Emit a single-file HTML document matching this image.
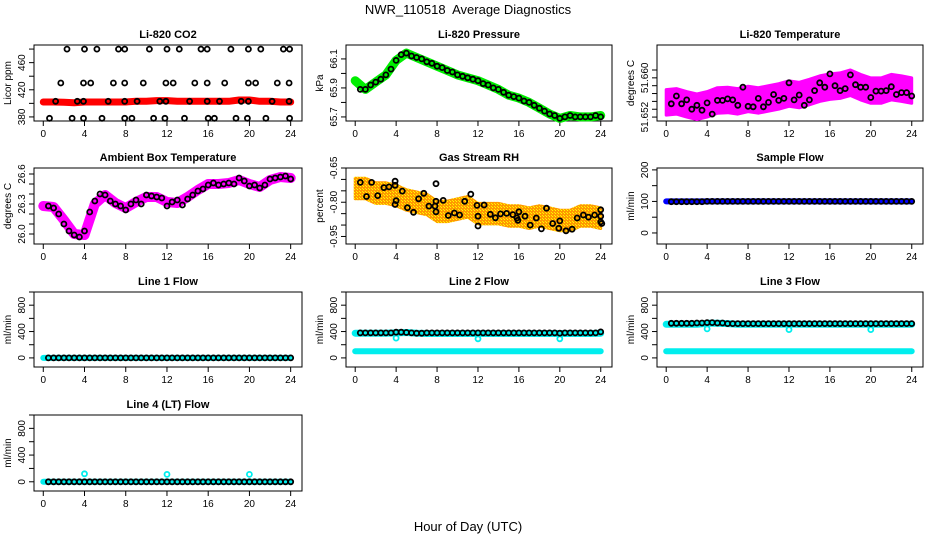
<!DOCTYPE html>
<html><head><meta charset="utf-8">
<style>
html,body{margin:0;padding:0;background:#fff;}
svg{display:block;font-family:"Liberation Sans",Arial,sans-serif;}
</style></head>
<body>
<svg id="chart" width="936" height="540" viewBox="0 0 936 540" xmlns="http://www.w3.org/2000/svg">
<defs>
<pattern id="rhpat" width="3" height="3" patternUnits="userSpaceOnUse">
<rect width="3" height="3" fill="#ff9900"/><rect width="1" height="1" fill="#ffff00"/><rect x="2" y="2" width="1" height="1" fill="#ffee00"/>
</pattern>
</defs>
<text x="468" y="14" text-anchor="middle" font-size="13">NWR_110518&#160; Average Diagnostics</text>
<text x="468" y="531" text-anchor="middle" font-size="13">Hour of Day (UTC)</text>
</svg>
<script>
// ---------- data ----------
const hourTicks=[0,4,8,12,16,20,24];
const halfHours=[0.5,1,1.5,2,2.5,3,3.5,4,4.5,5,5.5,6,6.5,7,7.5,8,8.5,9,9.5,10,10.5,11,11.5,12,12.5,13,13.5,14,14.5,15,15.5,16,16.5,17,17.5,18,18.5,19,19.5,20,20.5,21,21.5,22,22.5,23,23.5,24];
const bandHours=[0,1,2,3,4,5,6,7,8,9,10,11,12,13,14,15,16,17,18,19,20,21,22,23,24];

const co2X=[2.3,4.0,5.2,7.3,7.9,10.3,12.0,13.2,15.3,15.9,18.2,19.9,21.1,23.3,23.9,
1.7,3.9,4.6,6.8,7.9,9.7,11.9,12.6,14.7,15.9,17.6,19.9,20.6,22.7,23.85,
1.2,3.3,3.9,6.3,7.9,9.1,11.3,11.9,14.2,15.9,17.1,19.2,19.9,22.2,23.85,
0.6,2.8,3.9,5.7,7.9,8.6,10.7,11.8,13.7,16.0,16.6,18.7,19.8,21.6,23.9];
const co2Y=[480,480,480,480,480,480,480,480,480,480,480,480,480,480,480,
430,430,430,430,430,430,430,430,430,430,430,430,430,430,430,
403,403,403,403,403,403,403,403,403,403,403,403,403,403,403,
378,378,378,378,378,378,378,378,378,378,378,378,378,378,378];
const co2Band=[402,402,401.5,401,402,402,402,402,402,403,403,404,404,403,403,403,403,403,403,405,405,403,403,402,402];

const pressBand=[65.95,65.89,65.94,65.99,66.09,66.14,66.11,66.08,66.05,66.02,65.99,65.97,65.95,65.92,65.89,65.85,65.83,65.80,65.76,65.72,65.69,65.71,65.70,65.70,65.71];
const pressBlack=[65.89,65.89,65.92,65.94,65.96,65.99,66.03,66.09,66.13,66.14,66.12,66.11,66.10,66.08,66.07,66.05,66.04,66.02,66.01,65.99,65.98,65.97,65.96,65.95,65.93,65.92,65.90,65.89,65.87,65.85,65.84,65.83,65.81,65.80,65.78,65.76,65.74,65.72,65.71,65.69,65.70,65.71,65.70,65.70,65.70,65.70,65.71,65.70];

const tempBand=[51.6550,51.6552,51.6546,51.6541,51.6546,51.6554,51.6555,51.6552,51.6557,51.6554,51.6558,51.6562,51.6568,51.6565,51.6571,51.6578,51.6582,51.6584,51.6590,51.6581,51.6574,51.6574,51.6581,51.6578,51.6574];
const tempBlack=[51.6547,51.6563,51.6547,51.6555,51.6536,51.6544,51.6534,51.6549,51.6526,51.6554,51.6554,51.6557,51.6555,51.6544,51.6581,51.6542,51.6541,51.6558,51.6541,51.6550,51.6566,51.6554,51.6558,51.6590,51.6555,51.6565,51.6544,51.6555,51.6574,51.6590,51.6581,51.6608,51.6584,51.6574,51.6578,51.6606,51.6586,51.6581,51.6581,51.6560,51.6573,51.6573,51.6574,51.6582,51.6566,51.6570,51.6570,51.6563];

const ambBand=[26.28,26.27,26.14,26.00,25.99,26.30,26.39,26.31,26.26,26.32,26.37,26.37,26.32,26.31,26.37,26.44,26.50,26.50,26.51,26.54,26.50,26.47,26.54,26.57,26.56];
const ambBlack=[26.28,26.26,26.20,26.10,26.03,25.99,25.97,26.03,26.22,26.33,26.40,26.39,26.33,26.30,26.28,26.24,26.30,26.34,26.30,26.39,26.38,26.37,26.36,26.28,26.32,26.34,26.29,26.35,26.39,26.43,26.45,26.49,26.51,26.49,26.50,26.51,26.50,26.56,26.53,26.48,26.49,26.46,26.49,26.55,26.56,26.57,26.58,26.55];

const rhBand=[-0.74,-0.74,-0.76,-0.76,-0.77,-0.79,-0.80,-0.81,-0.84,-0.84,-0.83,-0.82,-0.85,-0.85,-0.85,-0.86,-0.86,-0.87,-0.86,-0.87,-0.88,-0.88,-0.86,-0.86,-0.87];
const rhX=[0.5,1.1,1.6,2.2,2.8,3.3,3.9,3.9,3.9,4.0,4.6,5.1,5.7,6.2,6.7,7.2,7.8,7.9,7.9,7.9,8.6,9.1,9.7,10.2,10.7,11.3,11.9,12.0,12.0,12.6,13.2,13.7,14.2,14.8,15.4,15.8,15.9,16.0,16.6,17.1,17.7,18.2,18.7,19.3,19.9,20.0,20.6,21.2,21.7,22.3,22.8,23.4,24.0,24.0,24.0,24.1];
const rhY=[-0.713,-0.775,-0.713,-0.771,-0.736,-0.733,-0.726,-0.708,-0.810,-0.793,-0.751,-0.824,-0.844,-0.785,-0.761,-0.817,-0.817,-0.796,-0.842,-0.719,-0.792,-0.858,-0.847,-0.856,-0.796,-0.765,-0.814,-0.904,-0.861,-0.812,-0.853,-0.868,-0.851,-0.849,-0.854,-0.869,-0.879,-0.842,-0.861,-0.900,-0.869,-0.917,-0.826,-0.893,-0.914,-0.882,-0.925,-0.918,-0.869,-0.856,-0.865,-0.856,-0.833,-0.861,-0.886,-0.893];

const sampleBand=[100,100,100,100,100,100,100,100,100,100,100,100,100,100,100,100,100,100,100,100,100,100,100,100,100];
const sampleBlack=[99,99,99,99,99,99,99,100,100,100,100,100,100,100,100,100,100,100,100,100,100,100,100,100,100,100,100,100,100,100,100,100,100,100,100,100,100,100,100,100,100,100,100,100,100,100,100,100];

const line1Cyan=[0,0,0,0,0,0,0,0,0,0,0,0,0,0,0,0,0,0,0,0,0,0,0,0,0];
const line1Black=[0,0,0,0,0,0,0,0,0,0,0,0,0,0,0,0,0,0,0,0,0,0,0,0,0,0,0,0,0,0,0,0,0,0,0,0,0,0,0,0,0,0,0,0,0,0,0,0];
const line2Cyan=[375,375,375,375,380,385,375,370,370,370,370,370,370,370,370,370,370,370,370,370,370,370,370,370,375];
const line2Low=[100,100,100,100,100,100,100,100,100,100,100,100,100,100,100,100,100,100,100,100,100,100,100,100,100];
const line2Black=[380,380,380,380,380,380,380,390,390,385,380,375,375,380,380,380,380,380,380,380,380,380,380,380,380,380,380,380,380,380,380,380,380,380,380,380,380,380,380,375,380,380,380,380,380,380,380,395];
const line3Cyan=[510,510,510,510,525,525,520,510,510,510,510,510,510,510,510,510,510,510,510,510,510,510,510,510,510];
const line3Low=[100,100,100,100,100,100,100,100,100,100,100,100,100,100,100,100,100,100,100,100,100,100,100,100,100];
const line3Black=[525,525,525,525,525,530,530,535,535,530,530,520,520,520,520,520,520,520,520,520,520,520,520,520,520,520,520,520,520,520,520,520,520,520,520,520,520,520,520,520,520,520,520,520,520,520,520,520];
const line4Cyan=[0,0,0,0,0,0,0,0,0,0,0,0,0,0,0,0,0,0,0,0,0,0,0,0,0];
const line4Black=[0,0,0,0,0,0,0,0,0,0,0,0,0,0,0,0,0,0,0,0,0,0,0,0,0,0,0,0,0,0,0,0,0,0,0,0,0,0,0,0,0,0,0,0,0,0,0,0];
const dipHours=[4,12,20];
const line2Dips=[300,290,290];
const line3Dips=[440,430,430];
const line4Spikes=[120,110,110];

// ---------- drawing ----------
const svg=document.getElementById('chart');
const NS='http://www.w3.org/2000/svg';
function mk(tag,attrs,parent){const e=document.createElementNS(NS,tag);for(const k in attrs)e.setAttribute(k,attrs[k]);(parent||svg).appendChild(e);return e;}
const colX=[[34,302],[346,612],[657,923]];
const rowY=[[45,121],[168,244],[292,367],[415,491]];
const X0=-0.9,X1=25.1;

function panel(c,r,yMin,yMax,yTicks,yLabels,title,ylab,name){
  const [L,R]=colX[c],[T,B]=rowY[r];
  const g=mk('g',{});
  
  
  const sx=v=>L+(v-X0)/(X1-X0)*(R-L);
  const sy=v=>B-(v-yMin)/(yMax-yMin)*(B-T);
  const box=mk('rect',{x:L,y:T,width:R-L,height:B-T,fill:'none',stroke:'#000','stroke-width':1},g);
  
  
  const t=mk('text',{x:(L+R)/2,y:T-7,'text-anchor':'middle','font-size':11,'font-weight':'bold'},g);
  t.textContent=title;
  
  
  const ax=mk('g',{stroke:'#000','stroke-width':1},g);
  
  
  mk('line',{x1:sx(0),x2:sx(24),y1:B,y2:B},ax);
  hourTicks.forEach(h=>{
    mk('line',{x1:sx(h),x2:sx(h),y1:B,y2:B+5},ax);
    const tl=mk('text',{x:sx(h),y:B+16,'text-anchor':'middle','font-size':10,stroke:'none'},g);
    tl.textContent=h;
    
    
  });
  const ay=mk('g',{stroke:'#000','stroke-width':1},g);
  
  
  mk('line',{x1:L,x2:L,y1:sy(yTicks[0]),y2:sy(yTicks[yTicks.length-1])},ay);
  yTicks.forEach(v=>mk('line',{x1:L-5,x2:L,y1:sy(v),y2:sy(v)},ay));
  yLabels.forEach(v=>{
    const y=sy(v);
    const tl=mk('text',{x:L-9,y:y,'text-anchor':'middle','font-size':10,transform:`rotate(-90 ${L-9} ${y})`},g);
    tl.textContent=(typeof v==='number'?v.toString():v);
    
    
  });
  const yl=mk('text',{x:L-23,y:(T+B)/2,'text-anchor':'middle','font-size':10,transform:`rotate(-90 ${L-23} ${(T+B)/2})`},g);
  yl.textContent=ylab;
  
  
  return {g,sx,sy};
}
function band(p,xs,ys,color,w,name){
  const pts=xs.map((x,i)=>p.sx(x).toFixed(1)+','+p.sy(ys[i]).toFixed(1)).join(' ');
  const e=mk('polyline',{points:pts,fill:'none',stroke:color,'stroke-width':w,'stroke-linejoin':'round','stroke-linecap':'round'},p.g);
  
  
}
function area(p,xs,ys,half,fill,name){
  const up=xs.map((x,i)=>p.sx(x).toFixed(1)+','+p.sy(ys[i]+half).toFixed(1));
  const dn=xs.map((x,i)=>p.sx(x).toFixed(1)+','+p.sy(ys[i]-half).toFixed(1)).reverse();
  const e=mk('polygon',{points:up.concat(dn).join(' '),fill:fill,stroke:fill,'stroke-width':3,'stroke-linejoin':'round'},p.g);
  
  
}
function pts(p,xs,ys,color,name,r){
  const g=mk('g',{fill:'none',stroke:color,'stroke-width':1.8},p.g);
  
  
  xs.forEach((x,i)=>{
    const c=mk('circle',{cx:p.sx(x).toFixed(1),cy:p.sy(ys[i]).toFixed(1),r:r||2.5},g);
    
    
  });
}

// Li-820 CO2
let p=panel(0,0,374,486,[380,400,420,440,460,480],[380,420,460],'Li-820 CO2','Licor ppm','co2');
band(p,bandHours,co2Band,'#ff0000',7,'co2-band');
pts(p,co2X,co2Y,'#000','co2-points');
// Pressure
p=panel(1,0,65.672,66.196,[65.7,65.8,65.9,66.0,66.1],['65.7','65.9','66.1'],'Li-820 Pressure','kPa','pressure');
band(p,bandHours,pressBand,'#00ee00',9,'pressure-band');
pts(p,halfHours,pressBlack,'#000','pressure-points');
// Temperature
p=panel(2,0,51.6512,51.6667,[51.652,51.6536,51.6552,51.6568,51.6584,51.66,51.6616],['51.652','51.660'],'Li-820 Temperature','degrees C','li820-temperature');
area(p,bandHours,tempBand,0.0026,'#ff00ff','temperature-band');
pts(p,halfHours,tempBlack,'#000','temperature-points');
// Ambient
p=panel(0,1,25.9,26.66,[26.0,26.1,26.2,26.3,26.4,26.5,26.6],['26.0','26.3','26.6'],'Ambient Box Temperature','degrees C','ambient');
band(p,bandHours,ambBand,'#ff00ff',10,'ambient-band');
pts(p,halfHours,ambBlack,'#000','ambient-points');
// RH
p=panel(1,1,-0.983,-0.65,[-0.65,-0.70,-0.75,-0.80,-0.85,-0.90,-0.95],['-0.65','-0.80','-0.95'],'Gas Stream RH','percent','rh');
area(p,bandHours,rhBand,0.045,'url(#rhpat)','rh-band');
pts(p,rhX,rhY,'#000','rh-points');
// Sample flow
p=panel(2,1,-35,206,[0,50,100,150,200],[0,100,200],'Sample Flow','ml/min','sample-flow');
band(p,bandHours,sampleBand,'#0000ff',6,'sample-flow-band');
pts(p,halfHours,sampleBlack,'#000','sample-flow-points');
// Line flows
const fT=[0,200,400,600,800,1000],fL=[0,400,800];
p=panel(0,2,-138,1000,fT,fL,'Line 1 Flow','ml/min','line1-flow');
band(p,bandHours,line1Cyan,'#00eeee',6,'line1-cyan');
pts(p,halfHours,line1Black,'#000','line1-points');
p=panel(1,2,-138,1000,fT,fL,'Line 2 Flow','ml/min','line2-flow');
band(p,bandHours,line2Low,'#00eeee',6,'line2-low');
band(p,bandHours,line2Cyan,'#00eeee',7,'line2-cyan');
pts(p,dipHours,line2Dips,'#00eeee','line2-dips');
pts(p,halfHours,line2Black,'#000','line2-points');
p=panel(2,2,-138,1000,fT,fL,'Line 3 Flow','ml/min','line3-flow');
band(p,bandHours,line3Low,'#00eeee',6,'line3-low');
band(p,bandHours,line3Cyan,'#00eeee',7,'line3-cyan');
pts(p,dipHours,line3Dips,'#00eeee','line3-dips');
pts(p,halfHours,line3Black,'#000','line3-points');
p=panel(0,3,-138,1000,fT,fL,'Line 4 (LT) Flow','ml/min','line4-flow');
band(p,bandHours,line4Cyan,'#00eeee',6,'line4-cyan');
pts(p,dipHours,line4Spikes,'#00eeee','line4-spikes');
pts(p,halfHours,line4Black,'#000','line4-points');
</script>
</body></html>
